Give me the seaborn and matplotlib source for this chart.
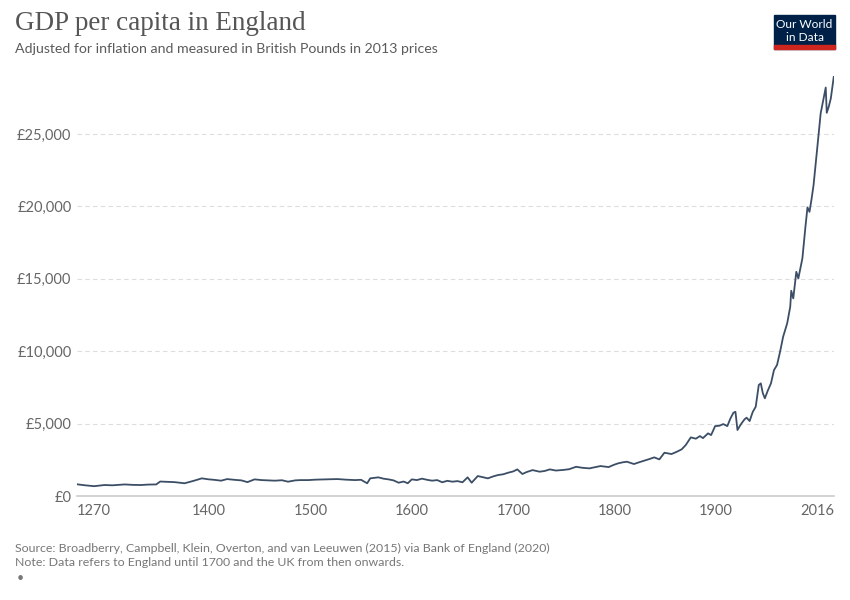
import matplotlib
matplotlib.use("Agg")
import matplotlib.pyplot as plt
import matplotlib.patches as mpatches
from matplotlib.ticker import FuncFormatter
import seaborn as sns
import pandas as pd

# GDP per capita in England (2013 GBP)
years = [1270, 1278, 1287, 1297, 1305, 1317, 1325, 1333, 1340, 1348,
         1352, 1360, 1366, 1376, 1385, 1393, 1400, 1405, 1412, 1418,
         1425, 1432, 1438, 1445, 1452, 1458, 1465, 1472, 1478, 1485,
         1490, 1498, 1505, 1514, 1520, 1527, 1535, 1544, 1550, 1556,
         1559, 1567, 1572, 1577, 1582, 1587, 1592, 1596, 1600, 1605,
         1610, 1615, 1620, 1625, 1630, 1635, 1640, 1645, 1650, 1655,
         1659, 1665, 1670, 1675, 1680, 1685, 1690, 1695, 1700, 1704,
         1709, 1713, 1719, 1726, 1731, 1736, 1742, 1749, 1755, 1762,
         1768, 1775, 1781, 1786, 1794, 1799, 1803, 1808, 1812, 1819,
         1824, 1829, 1834, 1839, 1844, 1849, 1856, 1861, 1866, 1870,
         1875, 1880, 1884, 1887, 1892, 1895, 1899, 1903, 1907, 1911,
         1914, 1917, 1919, 1921, 1923, 1925, 1928, 1930, 1933, 1936,
         1939, 1942, 1944, 1946, 1948, 1951, 1954, 1957, 1960, 1963,
         1966, 1970, 1973, 1974, 1976, 1979, 1981, 1985, 1988, 1990,
         1992, 1994, 1996, 1999, 2001, 2003, 2006, 2008, 2009, 2011,
         2013, 2015, 2016]
gdp = [810, 740, 680, 760, 740, 800, 770, 760, 790, 800,
       1000, 980, 960, 880, 1050, 1220, 1150, 1120, 1060, 1170,
       1120, 1080, 960, 1150, 1100, 1080, 1060, 1090, 990, 1080,
       1100, 1100, 1130, 1150, 1160, 1170, 1130, 1100, 1120, 880,
       1220, 1290, 1200, 1150, 1080, 920, 1000, 880, 1150, 1100,
       1200, 1120, 1060, 1100, 950, 1050, 990, 1030, 950, 1290,
       920, 1380, 1300, 1220, 1350, 1450, 1500, 1610, 1700, 1840,
       1520, 1650, 1790, 1680, 1730, 1840, 1760, 1800, 1850, 2020,
       1950, 1910, 2000, 2070, 2000, 2150, 2250, 2330, 2370, 2210,
       2330, 2440, 2550, 2670, 2530, 2990, 2900, 3050, 3225, 3520,
       4050, 3960, 4140, 4000, 4330, 4210, 4830, 4850, 4970, 4830,
       5350, 5750, 5820, 4560, 4800, 5020, 5300, 5410, 5180, 5800,
       6170, 7670, 7780, 7100, 6750, 7300, 7780, 8700, 9050, 9970,
       11000, 11930, 13070, 14180, 13650, 15490, 15030, 16420, 18600, 19940,
       19630, 20500, 21480, 23550, 25000, 26430, 27500, 28220, 26470, 26900,
       27460, 28500, 29000]

x_ticks = [1270, 1400, 1500, 1600, 1700, 1800, 1900, 2016]
y_ticks = [0, 5000, 10000, 15000, 20000, 25000]

title = "GDP per capita in England"
subtitle = "Adjusted for inflation and measured in British Pounds in 2013 prices"
source = "Source: Broadberry, Campbell, Klein, Overton, and van Leeuwen (2015) via Bank of England (2020)"
note = "Note: Data refers to England until 1700 and the UK from then onwards."

df = pd.DataFrame({"year": years, "gdp": gdp})

sns.set_style("white")
plt.rcParams['font.family'] = ['Lato', 'DejaVu Sans']

fig = plt.figure(figsize=(8.5, 6), dpi=100)
ax = fig.add_axes([0.0906, 0.1733, 0.8904, 0.6997])

sns.lineplot(x="year", y="gdp", data=df, ax=ax, color="#3c4e66", linewidth=1.3)

ax.set_xlim(1270, 2016)
ax.set_ylim(0, 29000)
ax.set_xticks(x_ticks)
ax.set_yticks(y_ticks)
ax.yaxis.set_major_formatter(FuncFormatter(lambda v, p: "£{:,.0f}".format(v)))
ax.set_xlabel("")
ax.set_ylabel("")

for v in y_ticks[1:]:
    ax.axhline(v, color="#dddddd", linestyle=(0, (4, 3)), linewidth=0.8, zorder=0)

for s in ["top", "right", "left"]:
    ax.spines[s].set_visible(False)
ax.spines["bottom"].set_color("#cccccc")
ax.spines["bottom"].set_linewidth(1.2)
ax.tick_params(axis="x", colors="#cccccc", length=5, width=1, direction="out",
               labelcolor="#666666", labelsize=10.5, pad=1)
ax.tick_params(axis="y", length=0, labelcolor="#666666", labelsize=10.5, pad=4)

# first and last year labels sit inside the axis ends
xlabels = ax.get_xticklabels()
xlabels[0].set_ha("left")
xlabels[-1].set_ha("right")

fig.text(15 / 850, 1 - 24 / 600, title, family="Liberation Serif", fontsize=19.5,
         color="#555555", va="center", ha="left")
fig.text(15 / 850, 1 - 49 / 600, subtitle, fontsize=10.2, color="#5b5b5b",
         va="center", ha="left")
fig.text(15 / 850, 1 - 548 / 600, source, fontsize=8.9, color="#777777", va="center")
fig.text(15 / 850, 1 - 563 / 600, note, fontsize=8.9, color="#777777", va="center")
fig.text(17 / 850, 1 - 578 / 600, "\u2022", fontsize=9, color="#777777", va="center")

# logo
fig.patches.append(mpatches.Rectangle((774 / 850, 1 - 49 / 600), 61 / 850, 34 / 600,
                                      transform=fig.transFigure, color="#002147", zorder=5))
fig.patches.append(mpatches.Rectangle((774 / 850, 1 - 49 / 600), 61 / 850, 3.5 / 600,
                                      transform=fig.transFigure, color="#ce261e", zorder=6))
fig.text(804.5 / 850, 1 - 24.5 / 600, "Our World", fontsize=8.6, color="white",
         ha="center", va="center", zorder=7)
fig.text(804.5 / 850, 1 - 37.5 / 600, "in Data", fontsize=8.6, color="white",
         ha="center", va="center", zorder=7)

fig.savefig("out.png", dpi=100)
